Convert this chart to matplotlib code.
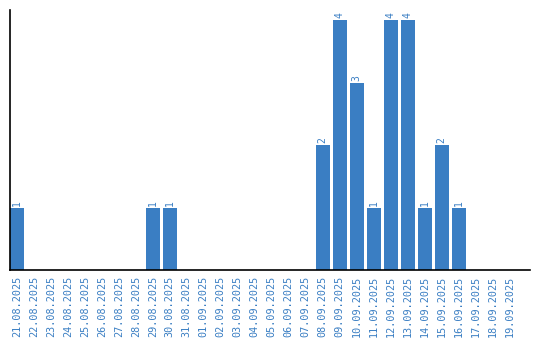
import matplotlib
matplotlib.use('Agg')
import matplotlib.pyplot as plt

# data
dates = ['21.08.2025', '22.08.2025', '23.08.2025', '24.08.2025', '25.08.2025',
         '26.08.2025', '27.08.2025', '28.08.2025', '29.08.2025', '30.08.2025',
         '31.08.2025', '01.09.2025', '02.09.2025', '03.09.2025', '04.09.2025',
         '05.09.2025', '06.09.2025', '07.09.2025', '08.09.2025', '09.09.2025',
         '10.09.2025', '11.09.2025', '12.09.2025', '13.09.2025', '14.09.2025',
         '15.09.2025', '16.09.2025', '17.09.2025', '18.09.2025', '19.09.2025']
counts = [1, 0, 0, 0, 0, 0, 0, 0, 1, 1,
          0, 0, 0, 0, 0, 0, 0, 0, 2, 4,
          3, 1, 4, 4, 1, 2, 1, 0, 0, 0]

blue = '#3a7ec3'

fig = plt.figure(figsize=(5.4, 3.4), dpi=100)
ax = fig.add_axes([10/540, 70/340, 520/540, 260/340])

x = range(len(dates))
ax.bar(x, counts, width=0.82, color=blue)

# value labels above the bars
for i, v in enumerate(counts):
    if v > 0:
        ax.text(i, v + 0.03, str(v), rotation=90, ha='center', va='bottom',
                color=blue, fontsize=7, family='DejaVu Sans Mono')

ax.set_xlim(-0.41, 30.2)
ax.set_ylim(0, 4.16)
ax.set_xticks(list(x))
ax.set_xticklabels(dates, rotation=90, color=blue, fontsize=7.3,
                   family='DejaVu Sans Mono')
ax.tick_params(axis='x', length=0, pad=4)
ax.set_yticks([])
ax.spines['top'].set_visible(False)
ax.spines['right'].set_visible(False)
ax.spines['left'].set_linewidth(1.2)
ax.spines['bottom'].set_linewidth(1.2)

fig.savefig('out.png', dpi=100)
